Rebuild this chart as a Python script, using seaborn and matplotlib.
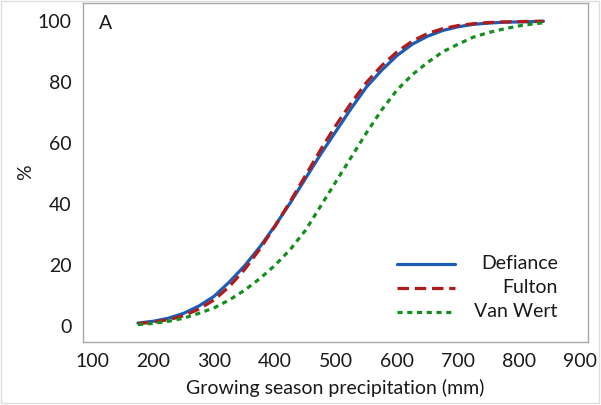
import matplotlib
matplotlib.use("Agg")
import matplotlib.pyplot as plt
from matplotlib.patches import Rectangle
import seaborn as sns
import pandas as pd

precip_mm = [175, 200, 225, 250, 275, 300, 325, 350, 375, 400, 425, 450, 475, 500,
             525, 550, 575, 600, 625, 650, 675, 700, 725, 750, 775, 800, 825, 840]
defiance = [1.0, 1.6, 2.6, 4.2, 6.6, 9.8, 14.5, 19.8, 26.0, 33.0, 40.5, 48.5, 56.5, 64.0,
            71.5, 78.5, 84.0, 88.8, 92.5, 95.1, 97.0, 98.2, 99.0, 99.4, 99.7, 99.8, 99.9, 100.0]
fulton = [0.8, 1.3, 2.1, 3.4, 5.6, 8.6, 13.0, 18.6, 25.3, 32.8, 41.0, 49.5, 58.0, 66.0,
          73.3, 80.0, 85.5, 90.0, 93.5, 96.0, 97.6, 98.6, 99.2, 99.6, 99.8, 99.9, 100.0, 100.0]
van_wert = [0.5, 0.9, 1.6, 2.6, 4.2, 6.0, 8.6, 11.8, 15.6, 20.0, 25.2, 31.5, 39.5, 47.5,
            55.5, 63.5, 71.0, 77.5, 82.5, 86.5, 90.0, 92.5, 94.8, 96.3, 97.5, 98.5, 99.2, 99.5]
counties = ["Defiance", "Fulton", "Van Wert"]
x_ticks = [100, 200, 300, 400, 500, 600, 700, 800, 900]
y_ticks = [0, 20, 40, 60, 80, 100]

df = pd.DataFrame({
    "precip": precip_mm * 3,
    "pct": defiance + fulton + van_wert,
    "county": [c for c in counties for _ in precip_mm],
})

sns.set_theme(style="white")
plt.rcParams["font.family"] = ["Lato", "DejaVu Sans"]

fig = plt.figure(figsize=(6.01, 4.05), dpi=100)
fig.patches.append(Rectangle((0.0015, 0.004), 0.9955, 0.994, transform=fig.transFigure,
                             fill=False, edgecolor="#dedede", linewidth=1.0))
ax = fig.add_axes([83 / 601, 63 / 405, 505 / 601, 339 / 405])

palette = {"Defiance": "#1c5cb6", "Fulton": "#b01c1c", "Van Wert": "#138f1f"}
dashes = {"Defiance": "", "Fulton": (3.6, 1.8), "Van Wert": (1.6, 1.45)}
sns.lineplot(data=df, x="precip", y="pct", hue="county", style="county",
             palette=palette, dashes=dashes, linewidth=2.3, legend=False, ax=ax,
             hue_order=counties, style_order=counties)

ax.set_xlim(85, 913)
ax.set_ylim(-5.2, 106)
ax.set_xticks(x_ticks)
ax.set_yticks(y_ticks)
ax.set_xlabel("Growing season precipitation (mm)", fontsize=14, color="#1a1a1a", labelpad=6)
ax.set_ylabel("%", fontsize=14, color="#1a1a1a", labelpad=3)
ax.tick_params(axis="both", which="both", direction="out", length=4, width=0.8,
               color="#9a9a9a", labelsize=14, labelcolor="#1a1a1a", pad=4)
for s in ax.spines.values():
    s.set_color("#a8a8a8")
    s.set_linewidth(1.0)
    s.set_visible(True)

ax.text(0.032, 0.965, "A", transform=ax.transAxes, ha="left", va="top",
        fontsize=14, color="#1a1a1a")

lines = ax.get_lines()[:3]
leg = ax.legend(handles=lines, labels=["", "", ""], loc="center left",
                bbox_to_anchor=(0.622, 0.156), frameon=False, borderpad=0,
                borderaxespad=0, handlelength=3.0, handletextpad=0,
                labelspacing=0.36, fontsize=14)

fig.canvas.draw()
renderer = fig.canvas.get_renderer()
inv = ax.transAxes.inverted()
for h, lab in zip(leg.legend_handles, counties):
    bb = h.get_window_extent(renderer)
    yc = (bb.y0 + bb.y1) / 2
    _, ya = inv.transform((0, yc))
    ax.text(0.940, ya, lab, transform=ax.transAxes, ha="right", va="center",
            fontsize=14, color="#1a1a1a")

fig.savefig("out.png", dpi=100)
